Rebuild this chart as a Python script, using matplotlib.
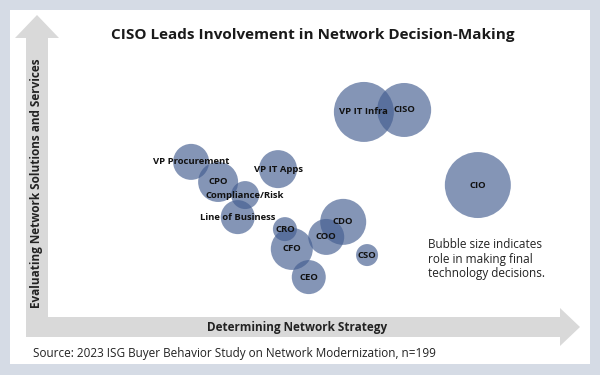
import matplotlib.pyplot as plt
from matplotlib.patches import Rectangle, Polygon

plt.rcParams['font.family'] = ['Open Sans', 'DejaVu Sans']

# roles, position scores (0-100) and bubble size (role in final decision)
roles = ['VP IT Infra', 'CISO', 'CIO', 'VP IT Apps', 'VP Procurement', 'CPO',
         'Compliance/Risk', 'Line of Business', 'CRO', 'CFO', 'CEO', 'COO',
         'CDO', 'CSO']
strategy = [59.6, 67.2, 81.1, 43.4, 27.0, 32.1, 37.2, 35.8, 44.7, 46.0, 49.2, 52.5, 55.7, 60.2]
evaluating = [73.5, 74.2, 47.3, 53.0, 55.6, 48.4, 43.7, 35.8, 31.5, 24.4, 14.3, 28.7, 34.1, 22.2]
decision = [30, 27, 33, 19, 18, 20, 14, 17, 12, 21, 17, 18, 23, 11]

bg = '#d5dbe5'
arrow_col = '#d9d9d9'
bubble_col = '#435d90'

fig = plt.figure(figsize=(6, 3.75), dpi=100, facecolor=bg)

# background frame in pixel coords
frame = fig.add_axes([0, 0, 1, 1])
frame.set_xlim(0, 600)
frame.set_ylim(375, 0)
frame.axis('off')
frame.add_patch(Rectangle((10, 10), 580, 354, facecolor='white', edgecolor='none'))

# axis arrows
frame.add_patch(Polygon([(26, 337), (26, 38), (15, 38), (37, 15), (59, 38), (48, 38), (48, 337)],
                        closed=True, facecolor=arrow_col, edgecolor='none'))
frame.add_patch(Polygon([(26, 317), (560, 317), (560, 308), (580, 327), (560, 346), (560, 337), (26, 337)],
                        closed=True, facecolor=arrow_col, edgecolor='none'))

frame.text(313, 35, 'CISO Leads Involvement in Network Decision-Making', ha='center', va='center',
           fontsize=11, fontweight='bold', color='#1a1a1a')
frame.text(37, 183, 'Evaluating Network Solutions and Services', rotation=90, ha='center', va='center',
           fontsize=8.5, fontweight='bold', color='#222222')
frame.text(297, 327, 'Determining Network Strategy', ha='center', va='center',
           fontsize=8.5, fontweight='bold', color='#222222')
frame.text(33, 353, 'Source: 2023 ISG Buyer Behavior Study on Network Modernization, n=199',
           ha='left', va='center', fontsize=8.5, color='#222222')
frame.text(428, 259, 'Bubble size indicates\nrole in making final\ntechnology decisions.',
           ha='left', va='center', fontsize=8.5, color='#222222', linespacing=1.15)

# bubble chart
ax = fig.add_axes([48 / 600, 58 / 375, 530 / 600, 279 / 375])
ax.set_xlim(0, 100)
ax.set_ylim(0, 100)
ax.axis('off')
sizes = [(2 * r * 0.72) ** 2 for r in decision]
ax.scatter(strategy, evaluating, s=sizes, color=bubble_col, alpha=0.65, linewidths=0, clip_on=False)
for name, x, y in zip(roles, strategy, evaluating):
    ax.text(x, y, name, ha='center', va='center', fontsize=6.8, fontweight='bold', color='#111111')

fig.savefig('out.png', dpi=100, facecolor=bg)
